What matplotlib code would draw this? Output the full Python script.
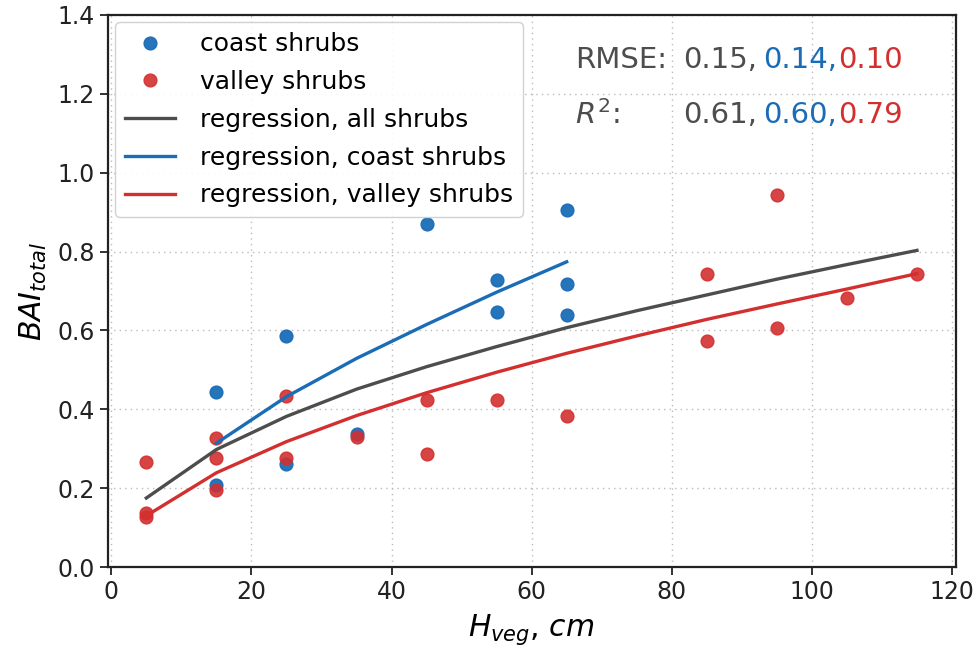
import numpy as np
from matplotlib import pyplot as plt

coast_x = [15, 15, 25, 25, 35, 45, 55, 55, 65, 65, 65]
coast_y = [0.444, 0.208, 0.585, 0.262, 0.338, 0.869, 0.727, 0.647, 0.905, 0.719, 0.638]

valley_x = [5, 5, 5, 15, 15, 15, 25, 25, 35, 45, 45, 55, 65, 85, 85, 95, 95, 105, 115]
valley_y = [0.266, 0.136, 0.128, 0.327, 0.276, 0.196, 0.434, 0.276, 0.329, 0.424, 0.287,
            0.424, 0.382, 0.742, 0.572, 0.943, 0.606, 0.681, 0.742]

# regression curves
reg_all_x = [5, 15, 25, 35, 45, 55, 65, 75, 85, 95, 105, 115]
reg_all_y = [0.175, 0.298, 0.382, 0.451, 0.508, 0.559, 0.607, 0.650, 0.690, 0.730, 0.767, 0.803]

reg_coast_x = [15, 25, 35, 45, 55, 65]
reg_coast_y = [0.314, 0.432, 0.529, 0.615, 0.697, 0.774]

reg_valley_x = [5, 15, 25, 35, 45, 55, 65, 75, 85, 95, 105, 115]
reg_valley_y = [0.130, 0.239, 0.318, 0.384, 0.442, 0.494, 0.542, 0.586, 0.628, 0.667, 0.705, 0.744]

rmse_vals = ["0.15,", "0.14,", "0.10"]
r2_vals = ["0.61,", "0.60,", "0.79"]

GRAY = "#4d4d4d"
BLUE = "#1a6cb7"
RED = "#d32f2f"


def main() -> None:
    fig = plt.figure(figsize=(9.8, 6.51), dpi=100)
    ax = fig.add_axes([0.110, 0.129, 0.865, 0.848])

    ax.plot(coast_x, coast_y, "o", color=BLUE, ms=9.2, alpha=0.95, label="coast shrubs")
    ax.plot(valley_x, valley_y, "o", color=RED, ms=9.2, alpha=0.9, label="valley shrubs")
    ax.plot(reg_all_x, reg_all_y, color=GRAY, lw=2.4, label="regression, all shrubs")
    ax.plot(reg_coast_x, reg_coast_y, color=BLUE, lw=2.4, label="regression, coast shrubs")
    ax.plot(reg_valley_x, reg_valley_y, color=RED, lw=2.4, label="regression, valley shrubs")

    ax.set_ylim(0, 1.4)
    ax.set_yticks(np.arange(0, 1.41, 0.2))
    ax.grid(True, linestyle=(0, (1, 3)), color="#bbbbbb", lw=1.0)
    ax.set_axisbelow(True)
    ax.tick_params(labelsize=17, width=1.3, length=6, colors="#222222")
    for sp in ax.spines.values():
        sp.set_linewidth(1.6)
        sp.set_color("#222222")

    ax.set_xlabel("$H_{veg}$, $cm$", fontsize=21.5, labelpad=6)
    ax.set_ylabel("$BAI_{total}$", fontsize=21.5, labelpad=6)

    ax.legend(loc="upper left", fontsize=18, numpoints=1, handlelength=2.0,
              handletextpad=1.0, borderaxespad=0.3, labelspacing=0.55, framealpha=0.9)

    xs = [0.679, 0.773, 0.862]
    ax.text(0.551, 0.918, "RMSE:", transform=ax.transAxes, fontsize=21, color=GRAY, va="center")
    ax.text(0.551, 0.819, "$R^2$:", transform=ax.transAxes, fontsize=21, color=GRAY, va="center")
    for xpos, rm, r2, col in zip(xs, rmse_vals, r2_vals, [GRAY, BLUE, RED]):
        ax.text(xpos, 0.918, rm, transform=ax.transAxes, fontsize=21, color=col, va="center")
        ax.text(xpos, 0.819, r2, transform=ax.transAxes, fontsize=21, color=col, va="center")

    fig.savefig("out.png", dpi=100)


if __name__ == "__main__":
    main()
